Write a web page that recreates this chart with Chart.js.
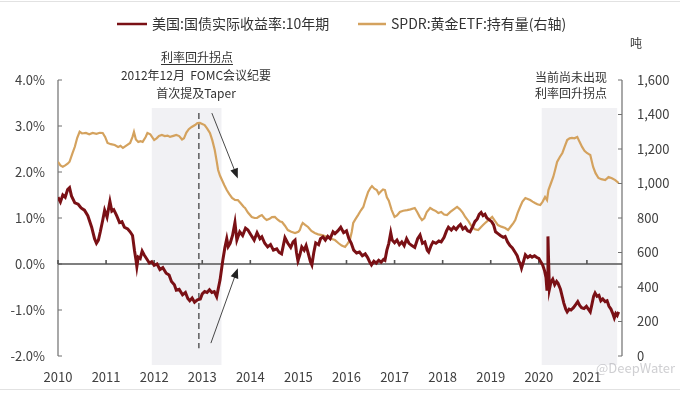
<!DOCTYPE html>
<html lang="zh-CN">
<head>
<meta charset="utf-8">
<title>美国实际利率与SPDR黄金ETF持有量</title>
<script src="https://cdn.jsdelivr.net/npm/chart.js@4.4.1/dist/chart.umd.min.js"></script>
<style>
  html, body { margin: 0; padding: 0; background: #fff; }
  #wrap { width: 680px; height: 397px; }
</style>
</head>
<body>
<div id="wrap"><canvas id="chart" width="680" height="397"></canvas></div>
<script>
// 美国:国债实际收益率:10年期 (%), dates as decimal years
const yieldDates = [
  2010.00, 2010.05, 2010.10, 2010.15, 2010.20, 2010.24, 2010.28, 2010.35, 2010.42, 2010.48,
  2010.55, 2010.62, 2010.70, 2010.76, 2010.80, 2010.84, 2010.88, 2010.93, 2010.97, 2011.02,
  2011.06, 2011.08, 2011.12, 2011.16, 2011.22, 2011.28, 2011.33, 2011.38, 2011.45, 2011.50,
  2011.55, 2011.59, 2011.62, 2011.64, 2011.67, 2011.71, 2011.75, 2011.79, 2011.84, 2011.90,
  2011.95, 2012.00, 2012.06, 2012.12, 2012.18, 2012.25, 2012.31, 2012.36, 2012.42, 2012.46,
  2012.52, 2012.59, 2012.65, 2012.70, 2012.74, 2012.79, 2012.84, 2012.90, 2012.96, 2013.00,
  2013.05, 2013.10, 2013.15, 2013.20, 2013.25, 2013.30, 2013.34, 2013.37, 2013.41, 2013.43,
  2013.47, 2013.51, 2013.54, 2013.58, 2013.63, 2013.68, 2013.72, 2013.78, 2013.84, 2013.90,
  2013.95, 2014.02, 2014.08, 2014.14, 2014.20, 2014.24, 2014.30, 2014.36, 2014.42, 2014.48,
  2014.55, 2014.60, 2014.65, 2014.69, 2014.72, 2014.78, 2014.84, 2014.89, 2014.93, 2014.96,
  2014.99, 2015.03, 2015.07, 2015.12, 2015.16, 2015.20, 2015.25, 2015.28, 2015.32, 2015.36,
  2015.42, 2015.46, 2015.51, 2015.56, 2015.61, 2015.66, 2015.72, 2015.76, 2015.82, 2015.88,
  2015.94, 2016.00, 2016.05, 2016.10, 2016.15, 2016.21, 2016.27, 2016.33, 2016.39, 2016.44,
  2016.48, 2016.52, 2016.57, 2016.62, 2016.67, 2016.72, 2016.77, 2016.80, 2016.84, 2016.88,
  2016.92, 2016.95, 2017.00, 2017.05, 2017.10, 2017.15, 2017.20, 2017.25, 2017.30, 2017.36,
  2017.42, 2017.48, 2017.53, 2017.58, 2017.63, 2017.68, 2017.71, 2017.76, 2017.80, 2017.86,
  2017.92, 2017.97, 2018.03, 2018.08, 2018.12, 2018.18, 2018.23, 2018.28, 2018.33, 2018.37,
  2018.42, 2018.47, 2018.52, 2018.57, 2018.62, 2018.67, 2018.72, 2018.76, 2018.80, 2018.84,
  2018.88, 2018.92, 2018.97, 2019.02, 2019.06, 2019.10, 2019.15, 2019.20, 2019.26, 2019.30,
  2019.35, 2019.40, 2019.45, 2019.51, 2019.55, 2019.59, 2019.61, 2019.64, 2019.68, 2019.72,
  2019.77, 2019.82, 2019.86, 2019.91, 2019.96, 2020.00, 2020.04, 2020.08, 2020.12, 2020.15,
  2020.17, 2020.18, 2020.19, 2020.20, 2020.22, 2020.25, 2020.29, 2020.33, 2020.37, 2020.40,
  2020.45, 2020.49, 2020.52, 2020.56, 2020.59, 2020.63, 2020.67, 2020.72, 2020.77, 2020.81,
  2020.85, 2020.89, 2020.94, 2020.99, 2021.03, 2021.07, 2021.10, 2021.14, 2021.17, 2021.21,
  2021.25, 2021.29, 2021.33, 2021.38, 2021.42, 2021.46, 2021.50, 2021.54, 2021.57, 2021.60,
  2021.63, 2021.66
];
const yieldValues = [
  1.45, 1.35, 1.50, 1.45, 1.62, 1.66, 1.48, 1.33, 1.30, 1.22,
  1.17, 1.05, 0.80, 0.55, 0.45, 0.52, 0.70, 0.95, 1.17, 1.02,
  1.25, 1.36, 1.15, 1.18, 1.05, 0.90, 0.92, 0.80, 0.76, 0.70,
  0.62, 0.30, 0.10, -0.06, 0.15, 0.12, 0.28, 0.20, 0.12, 0.02,
  0.05, -0.03, 0.00, -0.12, -0.08, -0.20, -0.24, -0.38, -0.45, -0.57,
  -0.55, -0.67, -0.62, -0.75, -0.80, -0.74, -0.83, -0.78, -0.76, -0.65,
  -0.60, -0.62, -0.56, -0.62, -0.60, -0.71, -0.50, -0.35, -0.05, 0.10,
  0.35, 0.55, 0.38, 0.45, 0.62, 0.90, 0.52, 0.70, 0.62, 0.78,
  0.74, 0.62, 0.52, 0.68, 0.55, 0.59, 0.45, 0.37, 0.42, 0.30,
  0.33, 0.25, 0.22, 0.42, 0.57, 0.45, 0.36, 0.48, 0.52, 0.25,
  0.07, 0.20, 0.37, 0.30, 0.40, 0.25, 0.05, -0.02, 0.25, 0.46,
  0.42, 0.55, 0.59, 0.52, 0.60, 0.55, 0.70, 0.66, 0.72, 0.80,
  0.68, 0.72, 0.55, 0.45, 0.30, 0.24, 0.26, 0.18, 0.22, 0.14,
  0.05, -0.02, 0.06, 0.02, 0.08, 0.04, 0.10, 0.08, 0.30, 0.45,
  0.68, 0.52, 0.46, 0.52, 0.42, 0.48, 0.40, 0.55, 0.45, 0.40,
  0.36, 0.55, 0.63, 0.45, 0.48, 0.30, 0.26, 0.40, 0.48, 0.45,
  0.50, 0.48, 0.58, 0.72, 0.80, 0.74, 0.80, 0.75, 0.82, 0.86,
  0.76, 0.80, 0.72, 0.70, 0.80, 0.92, 0.98, 1.08, 1.12, 1.05,
  1.08, 1.00, 0.96, 0.92, 0.85, 0.70, 0.66, 0.62, 0.58, 0.60,
  0.48, 0.40, 0.35, 0.25, 0.18, 0.05, 0.02, -0.09, 0.05, 0.20,
  0.14, 0.18, 0.15, 0.18, 0.14, 0.12, 0.05, -0.02, -0.15, -0.30,
  -0.58, -0.20, 0.60, 0.20, -0.55, -0.40, -0.33, -0.45, -0.38, -0.42,
  -0.55, -0.72, -0.85, -0.98, -1.04, -0.98, -1.00, -0.95, -0.88, -0.82,
  -0.90, -0.95, -0.97, -0.92, -0.98, -1.04, -0.90, -0.70, -0.63, -0.70,
  -0.68, -0.80, -0.76, -0.82, -0.80, -0.92, -0.98, -1.08, -1.17, -1.08,
  -1.12, -1.04
];

// SPDR:黄金ETF:持有量 (吨, right axis)
const goldDates = [
  2010.00, 2010.05, 2010.10, 2010.15, 2010.20, 2010.24, 2010.30, 2010.35, 2010.40, 2010.45,
  2010.50, 2010.58, 2010.65, 2010.72, 2010.80, 2010.87, 2010.93, 2010.98, 2011.03, 2011.10,
  2011.18, 2011.25, 2011.30, 2011.35, 2011.42, 2011.50, 2011.55, 2011.58, 2011.62, 2011.67,
  2011.72, 2011.76, 2011.82, 2011.86, 2011.92, 2012.00, 2012.05, 2012.10, 2012.16, 2012.22,
  2012.28, 2012.33, 2012.40, 2012.46, 2012.52, 2012.58, 2012.62, 2012.67, 2012.72, 2012.78,
  2012.85, 2012.90, 2012.95, 2013.00, 2013.05, 2013.10, 2013.16, 2013.21, 2013.26, 2013.30,
  2013.33, 2013.37, 2013.41, 2013.46, 2013.51, 2013.56, 2013.62, 2013.68, 2013.74, 2013.80,
  2013.86, 2013.89, 2013.95, 2014.03, 2014.09, 2014.14, 2014.19, 2014.24, 2014.29, 2014.34,
  2014.40, 2014.45, 2014.51, 2014.57, 2014.62, 2014.66, 2014.72, 2014.78, 2014.85, 2014.93,
  2015.00, 2015.03, 2015.06, 2015.09, 2015.14, 2015.20, 2015.27, 2015.34, 2015.41, 2015.49,
  2015.55, 2015.61, 2015.68, 2015.76, 2015.83, 2015.90, 2015.97, 2016.02, 2016.07, 2016.11,
  2016.14, 2016.19, 2016.24, 2016.30, 2016.35, 2016.40, 2016.45, 2016.50, 2016.53, 2016.58,
  2016.63, 2016.67, 2016.72, 2016.76, 2016.80, 2016.84, 2016.88, 2016.94, 2017.00, 2017.05,
  2017.11, 2017.18, 2017.26, 2017.33, 2017.42, 2017.47, 2017.52, 2017.57, 2017.62, 2017.67,
  2017.74, 2017.80, 2017.86, 2017.91, 2017.97, 2018.03, 2018.09, 2018.16, 2018.23, 2018.30,
  2018.36, 2018.42, 2018.47, 2018.54, 2018.61, 2018.67, 2018.74, 2018.79, 2018.84, 2018.90,
  2018.96, 2019.03, 2019.09, 2019.15, 2019.22, 2019.30, 2019.36, 2019.42, 2019.47, 2019.51,
  2019.56, 2019.61, 2019.66, 2019.72, 2019.77, 2019.82, 2019.87, 2019.92, 2019.97, 2020.03,
  2020.08, 2020.13, 2020.17, 2020.20, 2020.25, 2020.30, 2020.34, 2020.38, 2020.44, 2020.49,
  2020.54, 2020.59, 2020.64, 2020.69, 2020.74, 2020.80, 2020.85, 2020.90, 2020.95, 2021.00,
  2021.04, 2021.07, 2021.10, 2021.13, 2021.18, 2021.24, 2021.30, 2021.38, 2021.42, 2021.45,
  2021.52, 2021.59, 2021.66
];
const goldValues = [
  1126, 1105, 1097, 1105, 1115, 1126, 1175, 1213, 1265, 1300,
  1290, 1293, 1285, 1293, 1288, 1294, 1293, 1270, 1235, 1228,
  1223, 1212, 1218, 1206, 1220, 1235, 1270, 1299, 1255, 1241,
  1245, 1241, 1268, 1293, 1285, 1252, 1262, 1276, 1281, 1275,
  1278, 1270, 1276, 1281, 1275, 1255, 1262, 1295, 1315, 1328,
  1339, 1350, 1351, 1345, 1339, 1320, 1293, 1250, 1194, 1130,
  1078, 1045, 1020, 990, 962, 940, 916, 905, 904, 885,
  865, 858, 832, 806, 800, 800, 810, 817, 800, 788,
  795, 805, 806, 790, 780, 777, 755, 730, 720, 713,
  720, 730, 755, 771, 760, 748, 725, 713, 705, 701,
  695, 690, 680, 672, 655, 640, 632, 650, 672, 720,
  771, 795, 817, 845, 864, 910, 951, 975, 985, 970,
  962, 940, 955, 965, 962, 920, 900, 846, 806, 815,
  835, 842, 846, 850, 858, 835, 808, 788, 800, 835,
  858, 848, 840, 829, 835, 820, 817, 835, 850, 864,
  850, 830, 806, 780, 748, 735, 730, 745, 759, 775,
  790, 806, 782, 759, 750, 742, 730, 752, 770, 788,
  830, 864, 895, 916, 910, 904, 895, 887, 880, 875,
  895, 922, 904, 962, 1000, 1038, 1080, 1125, 1155, 1177,
  1215, 1252, 1262, 1264, 1262, 1270, 1240, 1212, 1190, 1177,
  1170, 1165, 1130, 1096, 1060, 1032, 1025, 1020, 1030, 1038,
  1030, 1020, 1003
];

// shaded periods (decimal years) and annotation anchors
const shadeRanges = [[2011.95, 2013.40], [2020.06, 2021.63]];
const taperDate = 2012.93;

const RED = '#7a1015';
const GOLD = '#d4a25e';
const FONT = '"Noto Sans CJK SC", "Noto Sans", sans-serif';

function thousands(v) {
  return String(v).replace(/\B(?=(\d{3})+(?!\d))/g, ',');
}

function arrow(ctx, x1, y1, x2, y2) {
  const ang = Math.atan2(y2 - y1, x2 - x1);
  const len = 10, half = 4;
  ctx.beginPath();
  ctx.moveTo(x1, y1);
  ctx.lineTo(x2 - Math.cos(ang) * len * 0.8, y2 - Math.sin(ang) * len * 0.8);
  ctx.stroke();
  ctx.beginPath();
  ctx.moveTo(x2, y2);
  ctx.lineTo(x2 - Math.cos(ang) * len - Math.sin(ang) * half, y2 - Math.sin(ang) * len + Math.cos(ang) * half);
  ctx.lineTo(x2 - Math.cos(ang) * len + Math.sin(ang) * half, y2 - Math.sin(ang) * len - Math.cos(ang) * half);
  ctx.closePath();
  ctx.fill();
}

const overlay = {
  id: 'overlay',
  beforeDatasetsDraw(chart) {
    const { ctx, chartArea: area, scales: { x, y, y2 } } = chart;
    ctx.save();

    // shaded periods
    ctx.fillStyle = '#f1f1f4';
    shadeRanges.forEach(([a, b]) => {
      const x1 = x.getPixelForValue(a), x2 = x.getPixelForValue(b);
      const top = y.getPixelForValue(3.39), bottom = area.bottom + 9;
      ctx.fillRect(x1, top, x2 - x1, bottom - top);
    });

    // axis lines + inward ticks
    ctx.strokeStyle = '#707070';
    ctx.lineWidth = 1.2;
    ctx.beginPath();
    ctx.moveTo(area.left, area.top);
    ctx.lineTo(area.left, area.bottom);
    ctx.moveTo(area.right, area.top);
    ctx.lineTo(area.right, area.bottom);
    y.ticks.forEach(t => {
      const py = y.getPixelForValue(t.value);
      ctx.moveTo(area.left, py);
      ctx.lineTo(area.left + 4, py);
    });
    y2.ticks.forEach(t => {
      const py = y2.getPixelForValue(t.value);
      ctx.moveTo(area.right, py);
      ctx.lineTo(area.right - 4, py);
    });
    ctx.stroke();

    // zero line with year ticks
    const y0 = y.getPixelForValue(0);
    ctx.strokeStyle = '#555';
    ctx.lineWidth = 1.6;
    ctx.beginPath();
    ctx.moveTo(area.left, y0);
    ctx.lineTo(area.right, y0);
    x.ticks.forEach(t => {
      const px = x.getPixelForValue(t.value);
      ctx.moveTo(px, y0);
      ctx.lineTo(px, y0 - 4);
    });
    ctx.stroke();

    // dashed taper line
    const dx = x.getPixelForValue(taperDate);
    ctx.strokeStyle = '#444';
    ctx.lineWidth = 1.3;
    ctx.setLineDash([6, 4]);
    ctx.beginPath();
    ctx.moveTo(dx, y.getPixelForValue(3.28));
    ctx.lineTo(dx, y.getPixelForValue(-1.83));
    ctx.stroke();
    ctx.restore();
  },
  afterDraw(chart) {
    const { ctx, scales: { x, y } } = chart;
    ctx.save();

    // arrows
    ctx.strokeStyle = '#333';
    ctx.fillStyle = '#222';
    ctx.lineWidth = 0.9;
    arrow(ctx, x.getPixelForValue(2013.20), y.getPixelForValue(3.28), x.getPixelForValue(2013.74), y.getPixelForValue(1.86));
    arrow(ctx, x.getPixelForValue(2013.18), y.getPixelForValue(-1.72), x.getPixelForValue(2013.74), y.getPixelForValue(-0.09));

    // annotation text
    ctx.fillStyle = '#333';
    ctx.font = '12px ' + FONT;
    ctx.textAlign = 'center';
    ctx.textBaseline = 'middle';
    ctx.fillText('利率回升拐点', 197, 57);
    const w = ctx.measureText('利率回升拐点').width;
    ctx.strokeStyle = '#333';
    ctx.lineWidth = 1;
    ctx.beginPath();
    ctx.moveTo(197 - w / 2, 64.5);
    ctx.lineTo(197 + w / 2, 64.5);
    ctx.stroke();
    ctx.fillText('2012年12月  FOMC会议纪要', 196, 75);
    ctx.fillText('首次提及Taper', 196, 93);
    ctx.fillText('当前尚未出现', 571, 77);
    ctx.fillText('利率回升拐点', 571, 93);
    ctx.fillText('吨', 636, 43);

    // legend
    ctx.font = '14px ' + FONT;
    ctx.textAlign = 'left';
    ctx.lineWidth = 2.5;
    ctx.strokeStyle = RED;
    ctx.beginPath();
    ctx.moveTo(117, 24);
    ctx.lineTo(147, 24);
    ctx.stroke();
    ctx.fillText('美国:国债实际收益率:10年期', 152, 24);
    ctx.strokeStyle = GOLD;
    ctx.beginPath();
    ctx.moveTo(358, 24);
    ctx.lineTo(386, 24);
    ctx.stroke();
    ctx.fillText('SPDR:黄金ETF:持有量(右轴)', 391, 24);

    // frame lines of the clipping
    ctx.strokeStyle = '#e2e2e2';
    ctx.lineWidth = 1;
    ctx.beginPath();
    ctx.moveTo(0, 1.5);
    ctx.lineTo(680, 1.5);
    ctx.moveTo(0, 389.5);
    ctx.lineTo(680, 389.5);
    ctx.stroke();

    // watermark
    ctx.fillStyle = 'rgba(160,160,165,0.5)';
    ctx.font = '13px ' + FONT;
    ctx.textAlign = 'right';
    ctx.fillText('@DeepWater', 675, 368);
    ctx.restore();
  }
};

Chart.defaults.font.family = FONT;
Chart.defaults.color = '#404040';

new Chart(document.getElementById('chart'), {
  type: 'line',
  data: {
    datasets: [
      {
        label: '美国:国债实际收益率:10年期',
        data: yieldDates.map((d, i) => ({ x: d, y: yieldValues[i] })),
        yAxisID: 'y',
        borderColor: RED,
        borderWidth: 3,
        pointRadius: 0,
        tension: 0
      },
      {
        label: 'SPDR:黄金ETF:持有量(右轴)',
        data: goldDates.map((d, i) => ({ x: d, y: goldValues[i] })),
        yAxisID: 'y2',
        borderColor: GOLD,
        borderWidth: 2.2,
        pointRadius: 0,
        tension: 0
      }
    ]
  },
  options: {
    responsive: false,
    animation: false,
    devicePixelRatio: 1,
    layout: { padding: { top: 80 } },
    plugins: { legend: { display: false }, tooltip: { enabled: false } },
    scales: {
      x: {
        type: 'linear',
        min: 2010,
        max: 2021.73,
        grid: { display: false, drawTicks: false },
        border: { display: false },
        ticks: {
          stepSize: 1,
          includeBounds: false,
          autoSkip: false,
          maxRotation: 0,
          padding: 13,
          font: { size: 13 },
          callback: v => String(v)
        },
        afterFit: s => { s.height = 41; }
      },
      y: {
        position: 'left',
        min: -2,
        max: 4,
        grid: { display: false, drawTicks: false },
        border: { display: false },
        ticks: { stepSize: 1, padding: 13, font: { size: 13 }, callback: v => v.toFixed(1) + '%' },
        afterFit: s => { s.width = 58; }
      },
      y2: {
        position: 'right',
        min: 0,
        max: 1600,
        grid: { display: false, drawTicks: false },
        border: { display: false },
        ticks: { stepSize: 200, padding: 15, font: { size: 13 }, callback: v => thousands(v) },
        afterFit: s => { s.width = 58; }
      }
    }
  },
  plugins: [overlay]
});
</script>
</body>
</html>
